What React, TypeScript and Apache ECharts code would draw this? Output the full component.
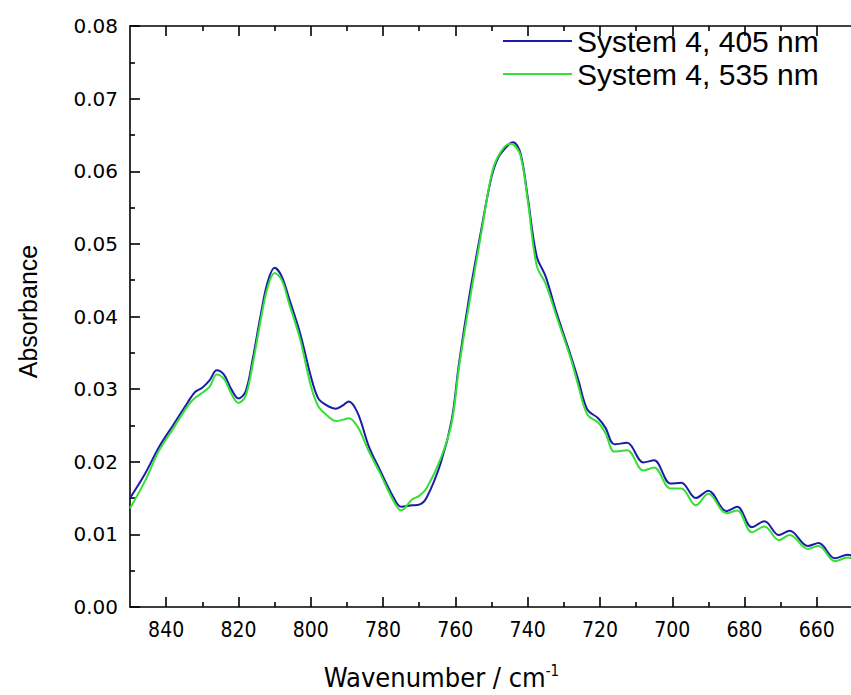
import React, { useEffect, useRef } from "react";
import * as echarts from "echarts";

// Wavenumber grid (cm^-1), descending
const wavenumbers = [
  850, 846, 842, 838, 834, 832, 830, 828, 826, 824, 822, 820, 818, 816, 814, 812, 810, 808, 806, 803,
  800, 798, 796, 793, 791, 789.5, 787, 784, 781, 777, 775, 772, 770, 768, 764, 761, 759, 756, 753, 750,
  748, 745, 744, 742, 740, 737.5, 735, 732, 728, 726, 723.5, 720.5, 718.5, 716, 712.5, 708, 705, 700.5,
  697.5, 693.5, 690, 685, 682, 678, 674.5, 670.5, 667.5, 662.5, 659.5, 655, 651.5, 650,
];

// System 4, 405 nm
const absorbance405 = [
  0.015, 0.0182, 0.022, 0.0251, 0.0282, 0.0296, 0.0302, 0.0312, 0.0326, 0.032, 0.03, 0.0287, 0.0297, 0.0343,
  0.0398, 0.0446, 0.0467, 0.0455, 0.0425, 0.0378, 0.0318, 0.0288, 0.0279, 0.0273, 0.0278, 0.0283, 0.0267,
  0.0222, 0.019, 0.015, 0.0138, 0.014, 0.0141, 0.015, 0.0199, 0.0258, 0.0335, 0.0432, 0.0515, 0.0592, 0.062,
  0.0638, 0.064, 0.0625, 0.0565, 0.0483, 0.0455, 0.0405, 0.0345, 0.0313, 0.0272, 0.026, 0.0247, 0.0224,
  0.0226, 0.0199, 0.0202, 0.017, 0.0171, 0.015, 0.016, 0.0132, 0.0138, 0.011, 0.0118, 0.0099, 0.0105, 0.0084,
  0.0088, 0.0067, 0.0072, 0.007,
];

// System 4, 535 nm
const absorbance535 = [
  0.0136, 0.0172, 0.0215, 0.0246, 0.0277, 0.0288, 0.0295, 0.0303, 0.032, 0.0314, 0.0294, 0.0281, 0.0291,
  0.0336, 0.0391, 0.0439, 0.046, 0.045, 0.0418, 0.037, 0.0305, 0.0277, 0.0266, 0.0256, 0.0258, 0.026, 0.0248,
  0.0215, 0.0186, 0.0145, 0.0133, 0.0148, 0.0153, 0.0163, 0.0205, 0.0254, 0.033, 0.0423, 0.051, 0.0595, 0.0622,
  0.0638, 0.0637, 0.0622, 0.0561, 0.047, 0.0445, 0.04, 0.0341, 0.0305, 0.0265, 0.0254, 0.024, 0.0214, 0.0216,
  0.0188, 0.0192, 0.0163, 0.0163, 0.014, 0.0156, 0.0129, 0.0133, 0.0103, 0.0111, 0.0092, 0.0099, 0.008,
  0.0084, 0.0063, 0.0068, 0.0066,
];

const seriesNames = ["System 4, 405 nm", "System 4, 535 nm"];
const seriesColors = ["#1c1ca8", "#33e033"];

const xMajorTicks = [840, 820, 800, 780, 760, 740, 720, 700, 680, 660];
const xMinorTicks = [830, 810, 790, 770, 750, 730, 710, 690, 670];

const FONT = "'Liberation Sans', Arial, sans-serif";
const NARROW = "'Liberation Sans Narrow', 'DejaVu Sans Condensed', 'Liberation Sans', sans-serif";

export default function App() {
  const ref = useRef<HTMLDivElement>(null);

  useEffect(() => {
    if (!ref.current) return;
    document.body.style.overflow = "hidden";
    const chart = echarts.init(ref.current, null, { renderer: "svg" });

    const baseX = {
      type: "value" as const,
      min: 650,
      max: 850,
      inverse: true,
      splitLine: { show: false },
    };

    const lineStyle = { color: "#000", width: 1.6 };

    chart.setOption({
      animation: false,
      backgroundColor: "#fff",
      grid: {
        left: 130,
        top: 26,
        width: 723,
        height: 581,
        containLabel: false,
        outerBoundsMode: "none",
      },
      legend: {
        left: 503,
        top: 26,
        padding: 0,
        orient: "vertical",
        itemWidth: 69,
        itemHeight: 2,
        itemGap: 3,
        icon: "rect",
        data: seriesNames,
        textStyle: { fontSize: 30, fontFamily: FONT, color: "#000", lineHeight: 30 },
      },
      xAxis: [
        {
          ...baseX,
          position: "bottom",
          axisLine: { show: true, lineStyle },
          axisTick: { show: true, inside: true, length: 10, lineStyle, customValues: xMajorTicks },
          axisLabel: {
            show: true,
            customValues: xMajorTicks,
            margin: 12,
            fontSize: 21,
            fontFamily: NARROW,
            color: "#000",
          },
          name: "Wavenumber / cm{sup|-1}",
          nameLocation: "middle",
          nameGap: 56,
          nameTextStyle: {
            fontSize: 27,
            lineHeight: 28,
            fontFamily: NARROW,
            color: "#000",
            padding: [0, 100, 0, 0],
            rich: {
              sup: {
                fontSize: 15,
                lineHeight: 28,
                fontFamily: NARROW,
                color: "#000",
                verticalAlign: "top",
                padding: [0, 0, 10, 0],
              },
            },
          },
        },
        {
          ...baseX,
          position: "bottom",
          axisLine: { show: false },
          axisTick: { show: true, inside: true, length: 5, lineStyle, customValues: xMinorTicks },
          axisLabel: { show: false },
        },
        {
          ...baseX,
          position: "top",
          axisLine: { show: true, lineStyle },
          axisTick: { show: true, inside: true, length: 10, lineStyle, customValues: xMajorTicks },
          axisLabel: { show: false },
        },
        {
          ...baseX,
          position: "top",
          axisLine: { show: false },
          axisTick: { show: true, inside: true, length: 5, lineStyle, customValues: xMinorTicks },
          axisLabel: { show: false },
        },
      ],
      yAxis: {
        type: "value",
        min: 0,
        max: 0.08,
        interval: 0.01,
        splitLine: { show: false },
        axisLine: { show: true, lineStyle },
        axisTick: { show: true, inside: true, length: 10, lineStyle },
        minorTick: { show: true, splitNumber: 2, length: 5, lineStyle },
        axisLabel: {
          margin: 12,
          fontSize: 20,
          fontFamily: "'DejaVu Sans', sans-serif",
          color: "#000",
          formatter: (v: number) => v.toFixed(2),
        },
        name: "Absorbance",
        nameLocation: "middle",
        nameRotate: 90,
        nameGap: 90,
        nameTextStyle: { fontSize: 25, fontFamily: FONT, color: "#000", padding: [0, 0, 0, 10] },
      },
      series: [0, 1].map((k) => ({
        name: seriesNames[k],
        type: "line",
        xAxisIndex: 0,
        showSymbol: false,
        smooth: 0.35,
        color: seriesColors[k],
        lineStyle: { color: seriesColors[k], width: 2 },
        data: wavenumbers.map((w, i) => [w, k === 0 ? absorbance405[i] : absorbance535[i]]),
      })),
    });

    return () => chart.dispose();
  }, []);

  return <div ref={ref} style={{ position: "absolute", left: 0, top: 0, width: 851, height: 695 }} />;
}
